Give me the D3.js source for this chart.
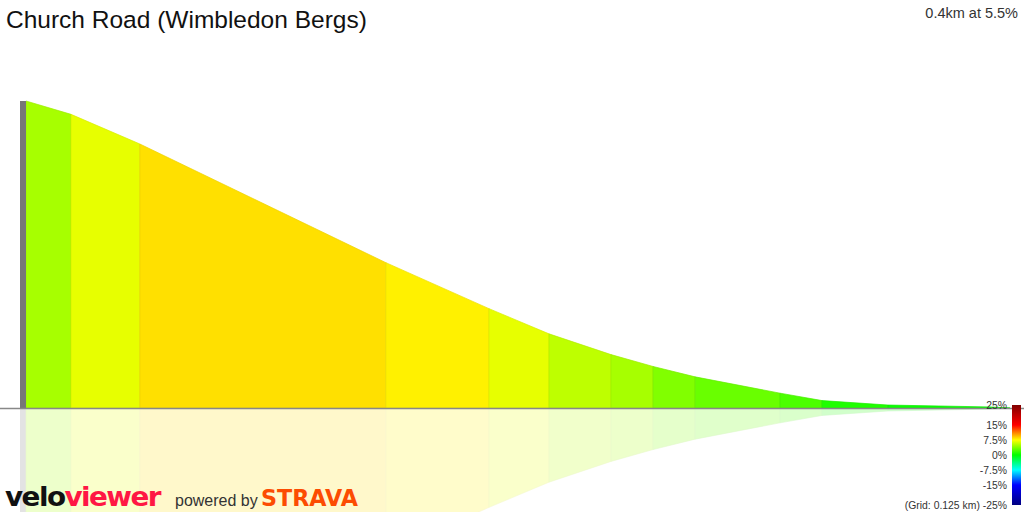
<!DOCTYPE html>
<html>
<head>
<meta charset="utf-8">
<script src="https://cdn.jsdelivr.net/npm/d3@7"></script>
<style>
  html, body { margin: 0; padding: 0; background: #fff; }
  svg { display: block; font-family: "Liberation Sans", Arial, sans-serif; }
</style>
</head>
<body>
<svg id="vis-pane" width="1024" height="512"></svg>
<script>
// profile: distance (m) / elevation (m)
var distances = [0, 18.3, 46.3, 146.3, 188.2, 212.6, 237.8, 254.9, 272.0, 306.5, 323.6, 350.4, 391.9, 400];
var elevations = [47.7, 46.8, 44.8, 36.8, 33.7, 32.0, 30.6, 29.8, 29.1, 28.0, 27.5, 27.2, 27.07, 27.0];
// gradient (%) of each segment
var grades = [4.9, 6.8, 8.4, 7.9, 6.8, 5.6, 4.9, 3.8, 3.1, 2.2, 0.9, 0.3, 0.1];

var legendTicks = [25, 15, 7.5, 0, -7.5, -15, -25];
var legendColors = ["#800000", "#ff0000", "#ffff00", "#00ff00", "#00ffff", "#0000ff", "#000080"];

var title = "Church Road (Wimbledon Bergs)";
var summary = "0.4km at 5.5%";
var gridText = "(Grid: 0.125 km) ";

var width = 1024, height = 512;
var base = 408;

var svg = d3.select("#vis-pane");

var x = d3.scaleLinear().domain([0, 400]).range([26, 1010]);
var y = d3.scaleLinear().domain([27, 47.7]).range([base, 101]);
var yr = d3.scaleLinear().domain([27, 47.7]).range([base, base + (base - 101)]);

var color = d3.scaleLinear().domain(legendTicks).range(legendColors).interpolate(d3.interpolateRgb);

var segments = grades.map(function(g, i) {
    return {grade: g, pts: [{d: distances[i], e: elevations[i]}, {d: distances[i+1], e: elevations[i+1]}]};
});

var area = d3.area()
    .x(function(p) { return x(p.d); })
    .y0(base)
    .y1(function(p) { return y(p.e); });

var areaMirror = d3.area()
    .x(function(p) { return x(p.d); })
    .y0(base)
    .y1(function(p) { return yr(p.e); });

svg.append("clipPath").attr("id", "clip")
    .append("rect").attr("width", width).attr("height", height);

// reflection
var refl = svg.append("g").attr("clip-path", "url(#clip)").attr("opacity", 0.2);
refl.append("rect")
    .attr("x", 20).attr("y", base)
    .attr("width", 6).attr("height", yr(elevations[0]) - base)
    .attr("fill", "#777");
refl.selectAll("path")
    .data(segments)
    .enter().append("path")
    .attr("d", function(s) { return areaMirror(s.pts); })
    .attr("fill", function(s) { return color(s.grade); })
    .attr("stroke", function(s) { return d3.color(color(s.grade)).darker(0.3); })
    .attr("stroke-width", 0.6);

// profile
svg.append("g").selectAll("path")
    .data(segments)
    .enter().append("path")
    .attr("d", function(s) { return area(s.pts); })
    .attr("fill", function(s) { return color(s.grade); })
    .attr("stroke", function(s) { return d3.color(color(s.grade)).darker(0.2); })
    .attr("stroke-width", 0.7);

// start bar
svg.append("rect")
    .attr("x", 20).attr("y", y(elevations[0]))
    .attr("width", 6).attr("height", base - y(elevations[0]))
    .attr("fill", "#777");

// baseline
svg.append("line")
    .attr("x1", 0).attr("x2", width)
    .attr("y1", base + 0.5).attr("y2", base + 0.5)
    .attr("stroke", "#888").attr("stroke-width", 1.5);

// titles
svg.append("text")
    .attr("x", 6).attr("y", 28)
    .attr("font-size", 24.5).attr("fill", "#111")
    .text(title);

svg.append("text")
    .attr("x", 1018).attr("y", 18)
    .attr("text-anchor", "end")
    .attr("font-size", 14.5).attr("fill", "#333")
    .text(summary);

// legend
var g = d3.scaleLinear().domain([25, -25]).range([405, 505]);
var grad = svg.append("defs").append("linearGradient")
    .attr("id", "legendGrad")
    .attr("x1", 0).attr("x2", 0).attr("y1", 0).attr("y2", 1);
grad.selectAll("stop")
    .data(legendTicks)
    .enter().append("stop")
    .attr("offset", function(v) { return (g(v) - 405) / 100; })
    .attr("stop-color", function(v) { return color(v); });

svg.append("rect")
    .attr("x", 1012).attr("y", g(25))
    .attr("width", 9).attr("height", g(-25) - g(25))
    .attr("fill", "url(#legendGrad)");

svg.append("g").selectAll("text")
    .data(legendTicks)
    .enter().append("text")
    .attr("x", 1007)
    .attr("y", function(v) { return g(v) + 3.5; })
    .attr("text-anchor", "end")
    .attr("font-size", 10.4).attr("fill", "#333")
    .text(function(v, i) { return (i == legendTicks.length - 1 ? gridText : "") + v + "%"; });

// logos
var logo = svg.append("text")
    .attr("x", 5).attr("y", 506)
    .attr("font-family", "'DejaVu Sans', sans-serif")
    .attr("font-weight", "bold")
    .attr("font-size", 27)
    .attr("letter-spacing", -1.5)
    .attr("textLength", 155).attr("lengthAdjust", "spacingAndGlyphs");
logo.append("tspan").attr("fill", "#111").text("velo");
logo.append("tspan").attr("fill", "#ff1744").text("viewer");

svg.append("text")
    .attr("x", 175).attr("y", 506)
    .attr("font-size", 16).attr("fill", "#333")
    .text("powered by");

svg.append("text")
    .attr("x", 261).attr("y", 506)
    .attr("font-family", "'DejaVu Sans', sans-serif")
    .attr("font-weight", "bold")
    .attr("font-size", 23)
    .attr("fill", "#fc4c02")
    .attr("textLength", 97).attr("lengthAdjust", "spacingAndGlyphs")
    .text("STRAVA");
</script>
</body>
</html>
